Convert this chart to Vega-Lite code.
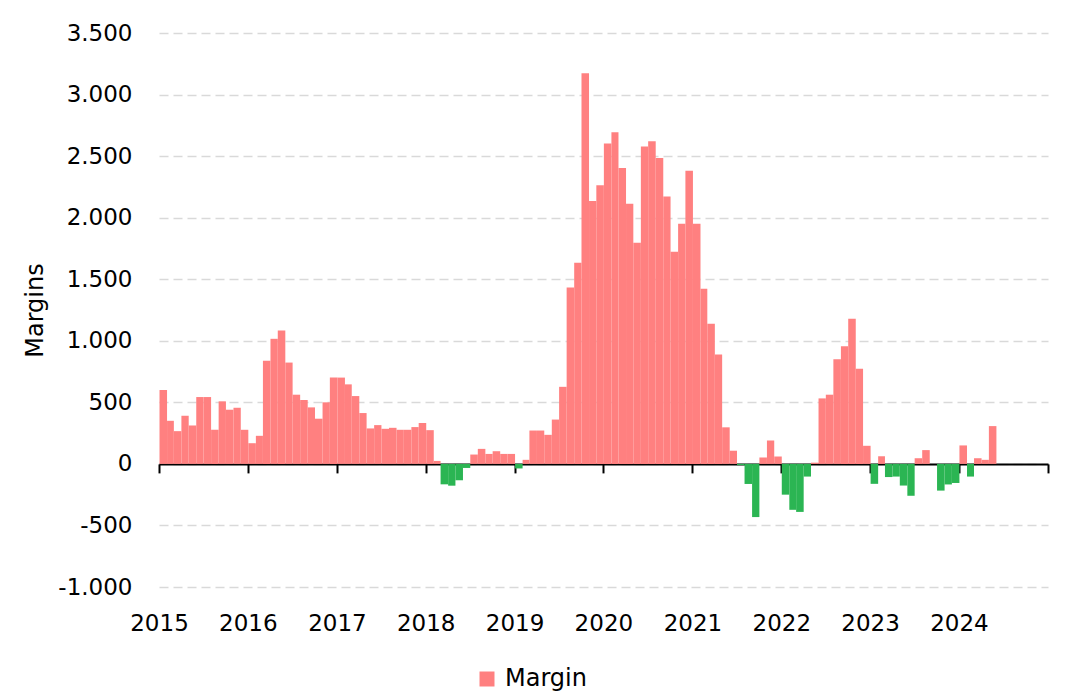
{
  "$schema": "https://vega.github.io/schema/vega-lite/v6.json",
  "width": 889,
  "height": 554,
  "autosize": "none",
  "padding": {"left": 159, "top": 33, "right": 31, "bottom": 106},
  "background": "white",
  "config": {
    "view": {"stroke": null},
    "font": "DejaVu Sans",
    "locale": {"number": {"decimal": ",", "thousands": ".", "grouping": [3], "currency": ["", " €"], "minus": "-"}}
  },
  "data": {
    "values": [
      {"month": "2015-01-15", "margin": 600, "series": "Margin"},
      {"month": "2015-02-15", "margin": 350, "series": "Margin"},
      {"month": "2015-03-15", "margin": 266, "series": "Margin"},
      {"month": "2015-04-15", "margin": 391, "series": "Margin"},
      {"month": "2015-05-15", "margin": 312, "series": "Margin"},
      {"month": "2015-06-15", "margin": 543, "series": "Margin"},
      {"month": "2015-07-15", "margin": 543, "series": "Margin"},
      {"month": "2015-08-15", "margin": 277, "series": "Margin"},
      {"month": "2015-09-15", "margin": 508, "series": "Margin"},
      {"month": "2015-10-15", "margin": 440, "series": "Margin"},
      {"month": "2015-11-15", "margin": 456, "series": "Margin"},
      {"month": "2015-12-15", "margin": 277, "series": "Margin"},
      {"month": "2016-01-15", "margin": 168, "series": "Margin"},
      {"month": "2016-02-15", "margin": 228, "series": "Margin"},
      {"month": "2016-03-15", "margin": 837, "series": "Margin"},
      {"month": "2016-04-15", "margin": 1016, "series": "Margin"},
      {"month": "2016-05-15", "margin": 1084, "series": "Margin"},
      {"month": "2016-06-15", "margin": 823, "series": "Margin"},
      {"month": "2016-07-15", "margin": 562, "series": "Margin"},
      {"month": "2016-08-15", "margin": 519, "series": "Margin"},
      {"month": "2016-09-15", "margin": 459, "series": "Margin"},
      {"month": "2016-10-15", "margin": 367, "series": "Margin"},
      {"month": "2016-11-15", "margin": 500, "series": "Margin"},
      {"month": "2016-12-15", "margin": 701, "series": "Margin"},
      {"month": "2017-01-15", "margin": 701, "series": "Margin"},
      {"month": "2017-02-15", "margin": 646, "series": "Margin"},
      {"month": "2017-03-15", "margin": 551, "series": "Margin"},
      {"month": "2017-04-15", "margin": 413, "series": "Margin"},
      {"month": "2017-05-15", "margin": 288, "series": "Margin"},
      {"month": "2017-06-15", "margin": 315, "series": "Margin"},
      {"month": "2017-07-15", "margin": 285, "series": "Margin"},
      {"month": "2017-08-15", "margin": 293, "series": "Margin"},
      {"month": "2017-09-15", "margin": 277, "series": "Margin"},
      {"month": "2017-10-15", "margin": 277, "series": "Margin"},
      {"month": "2017-11-15", "margin": 299, "series": "Margin"},
      {"month": "2017-12-15", "margin": 332, "series": "Margin"},
      {"month": "2018-01-15", "margin": 274, "series": "Margin"},
      {"month": "2018-02-15", "margin": 24, "series": "Margin"},
      {"month": "2018-03-15", "margin": -166, "series": "Margin"},
      {"month": "2018-04-15", "margin": -177, "series": "Margin"},
      {"month": "2018-05-15", "margin": -133, "series": "Margin"},
      {"month": "2018-06-15", "margin": -33, "series": "Margin"},
      {"month": "2018-07-15", "margin": 76, "series": "Margin"},
      {"month": "2018-08-15", "margin": 122, "series": "Margin"},
      {"month": "2018-09-15", "margin": 81, "series": "Margin"},
      {"month": "2018-10-15", "margin": 103, "series": "Margin"},
      {"month": "2018-11-15", "margin": 81, "series": "Margin"},
      {"month": "2018-12-15", "margin": 81, "series": "Margin"},
      {"month": "2019-01-15", "margin": -37, "series": "Margin"},
      {"month": "2019-02-15", "margin": 33, "series": "Margin"},
      {"month": "2019-03-15", "margin": 271, "series": "Margin"},
      {"month": "2019-04-15", "margin": 271, "series": "Margin"},
      {"month": "2019-05-15", "margin": 236, "series": "Margin"},
      {"month": "2019-06-15", "margin": 360, "series": "Margin"},
      {"month": "2019-07-15", "margin": 626, "series": "Margin"},
      {"month": "2019-08-15", "margin": 1433, "series": "Margin"},
      {"month": "2019-09-15", "margin": 1634, "series": "Margin"},
      {"month": "2019-10-15", "margin": 3173, "series": "Margin"},
      {"month": "2019-11-15", "margin": 2135, "series": "Margin"},
      {"month": "2019-12-15", "margin": 2263, "series": "Margin"},
      {"month": "2020-01-15", "margin": 2602, "series": "Margin"},
      {"month": "2020-02-15", "margin": 2693, "series": "Margin"},
      {"month": "2020-03-15", "margin": 2404, "series": "Margin"},
      {"month": "2020-04-15", "margin": 2113, "series": "Margin"},
      {"month": "2020-05-15", "margin": 1796, "series": "Margin"},
      {"month": "2020-06-15", "margin": 2578, "series": "Margin"},
      {"month": "2020-07-15", "margin": 2621, "series": "Margin"},
      {"month": "2020-08-15", "margin": 2485, "series": "Margin"},
      {"month": "2020-09-15", "margin": 2172, "series": "Margin"},
      {"month": "2020-10-15", "margin": 1723, "series": "Margin"},
      {"month": "2020-11-15", "margin": 1951, "series": "Margin"},
      {"month": "2020-12-15", "margin": 2381, "series": "Margin"},
      {"month": "2021-01-15", "margin": 1951, "series": "Margin"},
      {"month": "2021-02-15", "margin": 1423, "series": "Margin"},
      {"month": "2021-03-15", "margin": 1138, "series": "Margin"},
      {"month": "2021-04-15", "margin": 888, "series": "Margin"},
      {"month": "2021-05-15", "margin": 297, "series": "Margin"},
      {"month": "2021-06-15", "margin": 107, "series": "Margin"},
      {"month": "2021-07-15", "margin": -10, "series": "Margin"},
      {"month": "2021-08-15", "margin": -163, "series": "Margin"},
      {"month": "2021-09-15", "margin": -432, "series": "Margin"},
      {"month": "2021-10-15", "margin": 52, "series": "Margin"},
      {"month": "2021-11-15", "margin": 190, "series": "Margin"},
      {"month": "2021-12-15", "margin": 60, "series": "Margin"},
      {"month": "2022-01-15", "margin": -250, "series": "Margin"},
      {"month": "2022-02-15", "margin": -373, "series": "Margin"},
      {"month": "2022-03-15", "margin": -390, "series": "Margin"},
      {"month": "2022-04-15", "margin": -103, "series": "Margin"},
      {"month": "2022-05-15", "margin": 10, "series": "Margin"},
      {"month": "2022-06-15", "margin": 532, "series": "Margin"},
      {"month": "2022-07-15", "margin": 562, "series": "Margin"},
      {"month": "2022-08-15", "margin": 850, "series": "Margin"},
      {"month": "2022-09-15", "margin": 956, "series": "Margin"},
      {"month": "2022-10-15", "margin": 1178, "series": "Margin"},
      {"month": "2022-11-15", "margin": 773, "series": "Margin"},
      {"month": "2022-12-15", "margin": 147, "series": "Margin"},
      {"month": "2023-01-15", "margin": -162, "series": "Margin"},
      {"month": "2023-02-15", "margin": 62, "series": "Margin"},
      {"month": "2023-03-15", "margin": -107, "series": "Margin"},
      {"month": "2023-04-15", "margin": -103, "series": "Margin"},
      {"month": "2023-05-15", "margin": -176, "series": "Margin"},
      {"month": "2023-06-15", "margin": -259, "series": "Margin"},
      {"month": "2023-07-15", "margin": 46, "series": "Margin"},
      {"month": "2023-08-15", "margin": 112, "series": "Margin"},
      {"month": "2023-09-15", "margin": 0, "series": "Margin"},
      {"month": "2023-10-15", "margin": -217, "series": "Margin"},
      {"month": "2023-11-15", "margin": -167, "series": "Margin"},
      {"month": "2023-12-15", "margin": -155, "series": "Margin"},
      {"month": "2024-01-15", "margin": 150, "series": "Margin"},
      {"month": "2024-02-15", "margin": -103, "series": "Margin"},
      {"month": "2024-03-15", "margin": 46, "series": "Margin"},
      {"month": "2024-04-15", "margin": 33, "series": "Margin"},
      {"month": "2024-05-15", "margin": 307, "series": "Margin"}
    ]
  },
  "mark": {"type": "bar", "binSpacing": 0, "timeUnitBandSize": 1, "timeUnitBandPosition": 0},
  "encoding": {
    "x": {
      "field": "month",
      "timeUnit": "yearmonth",
      "type": "temporal",
      "title": null,
      "scale": {"domain": [{"year": 2015, "month": 1, "date": 1}, {"year": 2025, "month": 1, "date": 1}], "nice": false},
      "axis": {
        "offset": -123.1,
        "tickCount": {"interval": "year", "step": 1},
        "format": "%Y",
        "labelExpr": "year(datum.value) >= 2025 ? '' : datum.label",
        "grid": false,
        "domainColor": "#000000",
        "domainWidth": 2,
        "tickColor": "#000000",
        "tickWidth": 2,
        "tickSize": 9,
        "labelFontSize": 23,
        "labelColor": "#000000",
        "labelBaseline": "alphabetic",
        "labelPadding": 158,
        "labelFlush": false,
        "labelOverlap": false
      }
    },
    "y": {
      "field": "margin",
      "type": "quantitative",
      "title": "Margins",
      "scale": {"domain": [-1000, 3500], "nice": false},
      "axis": {
        "values": [-1000, -500, 0, 500, 1000, 1500, 2000, 2500, 3000, 3500],
        "format": ",d",
        "domain": false,
        "ticks": false,
        "tickSize": 0,
        "labelPadding": 27,
        "labelFontSize": 23,
        "labelColor": "#000000",
        "grid": true,
        "gridColor": "#d9d9d9",
        "gridDash": [9, 5],
        "gridWidth": 1.5,
        "titleFontSize": 24,
        "titleFontWeight": "normal",
        "titleColor": "#000000",
        "titleX": -117,
        "titleY": 277,
        "titleBaseline": "alphabetic",
        "titleAngle": 270
      }
    },
    "color": {
      "field": "series",
      "type": "nominal",
      "scale": {"domain": ["Margin"], "range": ["#FF8080"]},
      "condition": {"test": "datum.margin < 0", "value": "#2BB553"},
      "legend": {
        "orient": "none",
        "legendX": 316,
        "legendY": 634,
        "title": null,
        "symbolType": "square",
        "symbolSize": 225,
        "symbolStrokeWidth": 0,
        "labelFontSize": 24,
        "labelColor": "#000000",
        "labelOffset": 6,
        "padding": 0
      }
    }
  }
}
